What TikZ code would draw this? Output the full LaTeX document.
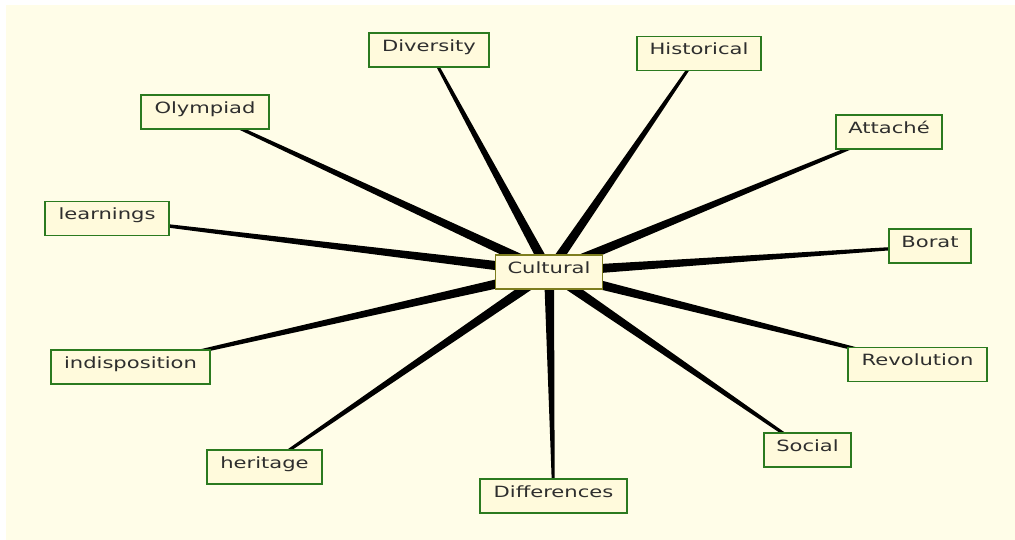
\documentclass[tikz,border=0pt]{standalone}
\usepackage{fontspec}
\setmainfont{DejaVu Sans}[FakeStretch=1.36]
\usetikzlibrary{calc}
\pgfdeclarelayer{bg}
\pgfdeclarelayer{spokes}
\pgfsetlayers{bg,spokes,main}
\definecolor{bgcream}{HTML}{FFFDE8}
\definecolor{boxfill}{HTML}{FFFADC}
\definecolor{boxgreen}{HTML}{2B7A1F}
\definecolor{olive}{HTML}{7D7D1E}
\definecolor{txt}{HTML}{2E2E2E}
\tikzset{
  leaf/.style={draw=boxgreen, fill=boxfill, line width=1.3pt, inner xsep=0pt, inner ysep=0pt,
    text height=18.3pt, text depth=15.7pt, text=txt, font=\fontsize{15.5}{18}\selectfont},
  hub/.style={leaf, draw=olive},
  spoke/.style={fill=black}
}
\newcommand{\wedgeto}[2]{%
  \fill[spoke] ($(#1.center)!1.2pt!90:(#2.center)$) -- ($(#1.center)!1.2pt!-90:(#2.center)$)
    -- ($(#2.center)!5pt!90:(#1.center)$) -- ($(#2.center)!5pt!-90:(#1.center)$) -- cycle;}
\begin{document}
\begin{tikzpicture}[x=1pt,y=-1pt]
\useasboundingbox (0,0) rectangle (1015,540);
\begin{pgfonlayer}{bg}
\fill[white] (0,0) rectangle (1015,540);
\fill[bgcream] (6,5) rectangle (1015,540);
\end{pgfonlayer}
\node[hub, minimum width=107pt] (cul) at (549,272) {Cultural};
\node[leaf, minimum width=120pt] (div) at (429,50) {Diversity};
\node[leaf, minimum width=124pt] (his) at (699,53.5) {Historical};
\node[leaf, minimum width=128pt] (oly) at (205,112) {Olympiad};
\node[leaf, minimum width=106pt] (att) at (889,132) {Attaché};
\node[leaf, minimum width=124pt] (lea) at (107,218.5) {learnings};
\node[leaf, minimum width=82pt] (bor) at (930,246) {Borat};
\node[leaf, minimum width=159pt] (ind) at (130.5,367) {indisposition};
\node[leaf, minimum width=139pt] (rev) at (917.5,364.5) {Revolution};
\node[leaf, minimum width=115pt] (her) at (264.5,467) {heritage};
\node[leaf, minimum width=87pt] (soc) at (807.5,450) {Social};
\node[leaf, minimum width=147pt] (dif) at (553.5,496) {Differences};
\begin{pgfonlayer}{spokes}
\foreach \n in {div,his,oly,att,lea,bor,ind,rev,her,soc,dif}{\wedgeto{\n}{cul}}
\end{pgfonlayer}
\end{tikzpicture}
\end{document}
